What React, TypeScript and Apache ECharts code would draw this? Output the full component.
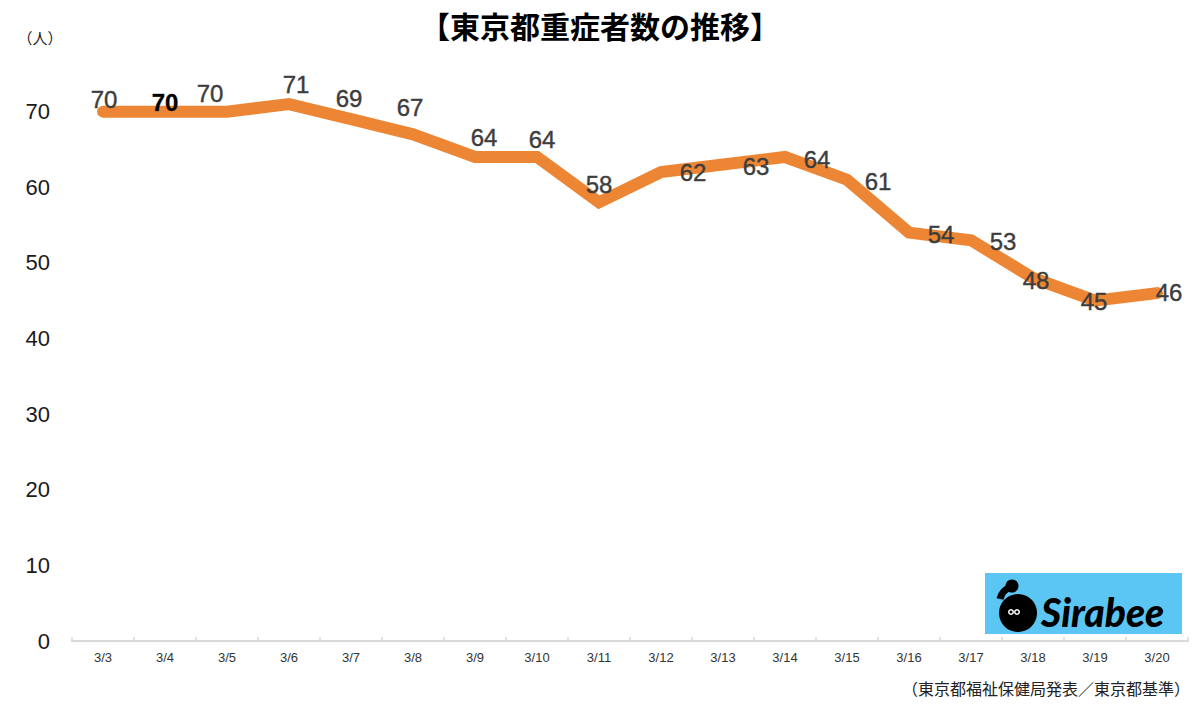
import React, { useEffect, useRef } from "react";
import * as echarts from "echarts";

const categories = ["3/3","3/4","3/5","3/6","3/7","3/8","3/9","3/10","3/11","3/12","3/13","3/14","3/15","3/16","3/17","3/18","3/19","3/20"];
const seriesValues = [70,70,70,71,69,67,64,64,58,62,63,64,61,54,53,48,45,46];
const yTicks = [0,10,20,30,40,50,60,70,80];
const labelOffsets: [number, number][] = [
  [1,-12],[0,-9],[-17,-18],[7,-20],[-2,-21],[-3,-27],[9,-20],[5,-18],[0,-18],
  [32,0],[33,2],[32,2],[31,2],[32,2],[32,1],[3,2],[-1,1],[12,-1]
];
const titleText = "【東京都重症者数の推移】";
const unitText = "（人）";
const sourceText = "（東京都福祉保健局発表／東京都基準）";

export default function App() {
  const ref = useRef<HTMLDivElement>(null);
  useEffect(() => {
    if (!ref.current) return;
    const chart = echarts.init(ref.current, null, { renderer: "svg" });
    const jp = "'Noto Sans CJK JP', sans-serif";
    const num = "'Liberation Sans', Arial, Helvetica, sans-serif";
    chart.setOption({
      animation: false,
      backgroundColor: "#ffffff",
      grid: { left: 72, right: 12, top: 36, bottom: 76, containLabel: false },
      xAxis: {
        type: "category",
        data: categories,
        boundaryGap: true,
        axisLine: { show: true, lineStyle: { color: "#d9d9d9", width: 2 } },
        axisTick: { show: true, inside: true, length: 4, lineStyle: { color: "#d9d9d9", width: 1.5 } },
        axisLabel: { color: "#333333", fontSize: 13, fontFamily: num, margin: 10 },
        splitLine: { show: false },
      },
      yAxis: {
        type: "value",
        min: yTicks[0],
        max: yTicks[yTicks.length - 1],
        interval: 10,
        axisLine: { show: false },
        axisTick: { show: false },
        splitLine: { show: false },
        axisLabel: {
          color: "#1a1a1a",
          fontSize: 22,
          fontFamily: num,
          margin: 22,
          showMaxLabel: false,
        },
      },
      series: [
        {
          type: "line",
          data: seriesValues.map((v, i) => ({
            value: v,
            label: {
              offset: labelOffsets[i],
              ...(i === 1 ? { color: "#000000", fontWeight: "bold" } : {}),
            },
          })),
          symbol: "circle",
          symbolSize: 2,
          itemStyle: { color: "#ED8634" },
          lineStyle: { color: "#ED8634", width: 12, cap: "round", join: "miter" },
          label: {
            show: true,
            position: "inside",
            color: "#3d3d3d",
            fontSize: 24,
            fontFamily: num,
            align: "center",
            verticalAlign: "middle",
            textBorderColor: "#3d3d3d",
            textBorderWidth: 0.4,
          },
          z: 3,
        },
      ],
      graphic: [
        {
          type: "text",
          left: "center",
          top: 10,
          style: {
            text: titleText,
            fontSize: 30,
            fontWeight: "bold",
            fontFamily: jp,
            fill: "#000000",
          },
        },
        {
          type: "text",
          x: 40,
          y: 37,
          style: {
            text: unitText,
            fontSize: 15,
            fontFamily: jp,
            fill: "#222222",
            textAlign: "center",
            textVerticalAlign: "middle",
          },
        },
        {
          type: "text",
          x: 1190,
          y: 688,
          style: {
            text: sourceText,
            fontSize: 16,
            fontFamily: jp,
            fill: "#222222",
            textAlign: "right",
            textVerticalAlign: "middle",
          },
        },
        {
          type: "rect",
          shape: { x: 985, y: 573, width: 197, height: 61 },
          style: { fill: "#5BC6F3" },
          z: 10,
        },
        {
          type: "bezierCurve",
          shape: { x1: 1011, y1: 587, x2: 1000, y2: 599, cpx1: 1002, cpy1: 590 },
          style: { stroke: "#000000", lineWidth: 7, fill: null },
          z: 11,
        },
        {
          type: "circle",
          shape: { cx: 1012, cy: 586, r: 6.5 },
          style: { fill: "#000000" },
          z: 11,
        },
        {
          type: "circle",
          shape: { cx: 1018, cy: 613, r: 19 },
          style: { fill: "#000000" },
          z: 11,
        },
        {
          type: "ring",
          shape: { cx: 1011, cy: 612, r: 3, r0: 1.5 },
          style: { fill: "#ffffff" },
          z: 12,
        },
        {
          type: "ring",
          shape: { cx: 1017, cy: 612, r: 3, r0: 1.5 },
          style: { fill: "#ffffff" },
          z: 12,
        },
        {
          type: "text",
          x: 1041,
          y: 612,
          style: {
            text: "Sirabee",
            fontSize: 39,
            fontWeight: 900,
            fontStyle: "italic",
            fontFamily: "Lato, 'Noto Sans', sans-serif",
            fill: "#000000",
            textVerticalAlign: "middle",
          },
          z: 11,
        },
      ],
    });
    return () => chart.dispose();
  }, []);
  return (
    <div
      ref={ref}
      style={{ position: "absolute", left: 0, top: 0, width: 1200, height: 717 }}
    />
  );
}
